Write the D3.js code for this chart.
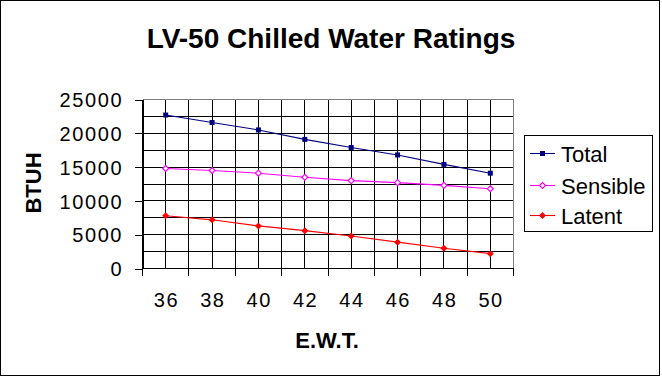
<!DOCTYPE html>
<html>
<head>
<meta charset="utf-8">
<script src="https://cdn.jsdelivr.net/npm/d3@7"></script>
<style>
  body { margin: 0; background: #fff; }
  text { font-family: "Liberation Sans", Arial, sans-serif; }
</style>
</head>
<body>
<div id="chart"></div>
<script>
// chart data
var ewt = ["36", "38", "40", "42", "44", "46", "48", "50"];
var total    = [22700, 21600, 20500, 19100, 17900, 16800, 15400, 14100];
var sensible = [14800, 14500, 14100, 13500, 13000, 12700, 12300, 11800];
var latent   = [7800, 7200, 6300, 5600, 4800, 3900, 3000, 2200];
var yTicks = [0, 5000, 10000, 15000, 20000, 25000];
var yGrid  = d3.range(0, 25001, 2500);

var series = [
  { name: "Total",    values: total,    color: "#000080", marker: "square" },
  { name: "Sensible", values: sensible, color: "#FF00FF", marker: "diamondOpen" },
  { name: "Latent",   values: latent,   color: "#FF0000", marker: "diamond" }
];

var largeur = 662, hauteur = 376;
var plotLeft = 142.5, plotRight = 513.5, plotTop = 99.5, plotBottom = 268.5;

var svg = d3.select("#chart").append("svg")
  .attr("width", largeur)
  .attr("height", hauteur);

svg.append("rect")
  .attr("x", 0).attr("y", 0).attr("width", largeur).attr("height", hauteur)
  .attr("fill", "#fff");

// outer frame
svg.append("rect")
  .attr("x", 0.5).attr("y", 0.5)
  .attr("width", 659).attr("height", 375)
  .attr("fill", "none").attr("stroke", "#000");

//----------------------------------------------------------------
// scales
var x = d3.scaleBand().domain(ewt).range([plotLeft, plotRight]);
var xHalf = d3.scaleLinear().domain([0, ewt.length]).range([plotLeft, plotRight]);
var y = d3.scaleLinear().domain([0, 25000]).range([plotBottom, plotTop]);
var px = function(v) { return Math.round(v - 0.5) + 0.5; };
var cx = function(i) { return x(ewt[i]) + x.bandwidth() / 2; };

var grid = svg.append("g").attr("shape-rendering", "crispEdges");

// horizontal grid
grid.selectAll(".hg").data(yGrid).enter().append("line")
  .attr("x1", plotLeft).attr("x2", plotRight)
  .attr("y1", function(d) { return px(y(d)); })
  .attr("y2", function(d) { return px(y(d)); })
  .attr("stroke", "#000");

// vertical grid : at tick marks and at category centres
grid.selectAll(".vg").data(d3.range(0, ewt.length + 0.01, 0.5)).enter().append("line")
  .attr("x1", function(d) { return px(xHalf(d)); })
  .attr("x2", function(d) { return px(xHalf(d)); })
  .attr("y1", plotTop).attr("y2", plotBottom)
  .attr("stroke", "#000");

// plot border top / right (gray)
grid.append("path")
  .attr("d", "M" + plotLeft + "," + plotTop + "H" + plotRight + "V" + plotBottom)
  .attr("fill", "none").attr("stroke", "#808080");

//----------------------------------------------------------------
// y axis
var yAxis = svg.append("g")
  .attr("transform", "translate(" + plotLeft + ",0)")
  .call(d3.axisLeft(y).tickValues(yTicks).tickFormat(d3.format("d"))
    .tickSize(8).tickPadding(13).tickSizeOuter(0));
yAxis.select(".domain").attr("stroke", "#000").attr("shape-rendering", "crispEdges");
yAxis.selectAll(".tick line").attr("stroke", "#000").attr("shape-rendering", "crispEdges");
yAxis.selectAll(".tick text")
  .attr("font-family", "Liberation Sans, Arial, sans-serif")
  .attr("font-size", 20)
  .attr("letter-spacing", "1.6px")
  .attr("fill", "#000")
  .attr("dx", 1.6)
  .attr("dy", "0.36em");

// x axis
svg.append("line")
  .attr("x1", plotLeft).attr("x2", plotRight)
  .attr("y1", plotBottom).attr("y2", plotBottom)
  .attr("stroke", "#000").attr("shape-rendering", "crispEdges");
svg.selectAll(".xt").data(d3.range(0, ewt.length + 1)).enter().append("line")
  .attr("x1", function(d) { return px(xHalf(d)); })
  .attr("x2", function(d) { return px(xHalf(d)); })
  .attr("y1", plotBottom).attr("y2", plotBottom + 7)
  .attr("stroke", "#000").attr("shape-rendering", "crispEdges");
svg.selectAll(".xl").data(ewt).enter().append("text")
  .attr("x", function(d) { return x(d) + x.bandwidth() / 2 + 0.8; })
  .attr("y", 307)
  .attr("text-anchor", "middle")
  .attr("font-size", 20)
  .attr("letter-spacing", "1.6px")
  .text(function(d) { return d; });

//----------------------------------------------------------------
// series lines and markers
var line = d3.line()
  .x(function(d, i) { return cx(i); })
  .y(function(d) { return y(d); });

function drawMarker(g, kind, color, mx, my) {
  if (kind === "square") {
    g.append("rect").attr("x", mx - 2.5).attr("y", my - 2.5)
      .attr("width", 5).attr("height", 5).attr("fill", color);
  } else if (kind === "diamondOpen") {
    g.append("path")
      .attr("d", "M" + mx + "," + (my - 3) + "L" + (mx + 3) + "," + my +
                 "L" + mx + "," + (my + 3) + "L" + (mx - 3) + "," + my + "Z")
      .attr("fill", "#fff").attr("stroke", color).attr("stroke-width", 1.2);
  } else {
    g.append("path")
      .attr("d", "M" + mx + "," + (my - 3.5) + "L" + (mx + 3.5) + "," + my +
                 "L" + mx + "," + (my + 3.5) + "L" + (mx - 3.5) + "," + my + "Z")
      .attr("fill", color);
  }
}

series.forEach(function(s) {
  svg.append("path")
    .datum(s.values)
    .attr("d", line)
    .attr("fill", "none")
    .attr("stroke", s.color)
    .attr("stroke-width", 1.1);
  var mg = svg.append("g");
  s.values.forEach(function(v, i) {
    drawMarker(mg, s.marker, s.color, cx(i), y(v));
  });
});

//----------------------------------------------------------------
// titles
svg.append("text")
  .attr("x", 331).attr("y", 48)
  .attr("text-anchor", "middle")
  .attr("font-size", 28).attr("font-weight", "bold")
  .text("LV-50 Chilled Water Ratings");

svg.append("text")
  .attr("x", 327).attr("y", 348)
  .attr("text-anchor", "middle")
  .attr("font-size", 22).attr("font-weight", "bold")
  .text("E.W.T.");

svg.append("text")
  .attr("transform", "translate(41,183) rotate(-90)")
  .attr("text-anchor", "middle")
  .attr("font-size", 22).attr("font-weight", "bold")
  .text("BTUH");

//----------------------------------------------------------------
// legend
var legend = svg.append("g");
legend.append("rect")
  .attr("x", 524.5).attr("y", 135.5)
  .attr("width", 128).attr("height", 96)
  .attr("fill", "#fff").attr("stroke", "#000").attr("shape-rendering", "crispEdges");
var rowsY = [153.5, 185.5, 215.5];
series.forEach(function(s, i) {
  var ly = rowsY[i];
  legend.append("line")
    .attr("x1", 530).attr("x2", 555)
    .attr("y1", ly).attr("y2", ly)
    .attr("stroke", s.color).attr("stroke-width", 1.1);
  drawMarker(legend, s.marker, s.color, 542.5, ly);
  legend.append("text")
    .attr("x", 561).attr("y", ly + 8)
    .attr("font-size", 22)
    .text(s.name);
});
</script>
</body>
</html>
